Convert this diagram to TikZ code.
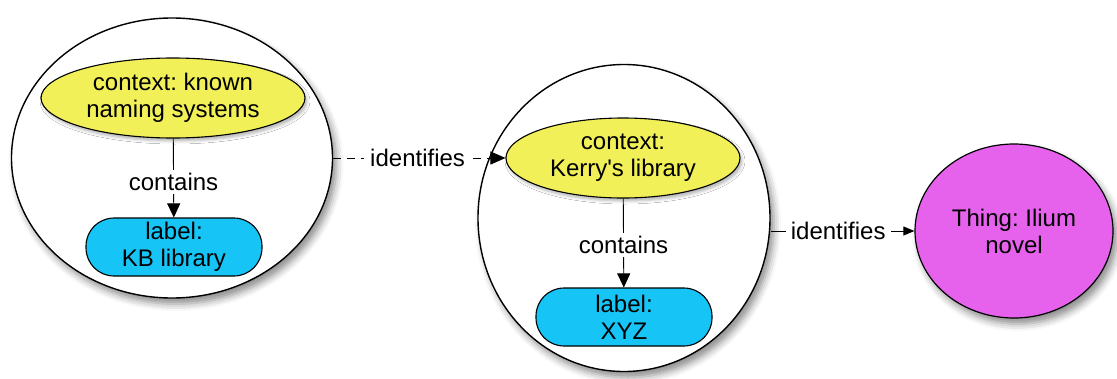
\documentclass[tikz,border=0pt]{standalone}
\usepackage{fontspec}
\setmainfont{Liberation Sans}
\usetikzlibrary{shapes.geometric,arrows.meta,shadows.blur}
\frenchspacing
\definecolor{ctxyellow}{RGB}{242,240,88}
\definecolor{lblblue}{RGB}{22,196,245}
\definecolor{thingpink}{RGB}{230,98,236}
\tikzset{
  every node/.style={font=\fontsize{24}{27}\selectfont, align=center},
  bigshadow/.style={blur shadow={shadow xshift=4pt, shadow yshift=-6pt, shadow blur radius=7pt, shadow opacity=45}},
  smallshadow/.style={blur shadow={shadow xshift=2pt, shadow yshift=-3pt, shadow blur radius=3pt, shadow opacity=30}},
  contextcircle/.style={ellipse, draw, line width=1.4pt, fill=white, inner sep=0pt, bigshadow},
  contextnode/.style={ellipse, draw, line width=1.1pt, fill=ctxyellow, inner sep=0pt, smallshadow},
  labelnode/.style={rectangle, rounded corners=28pt, draw, line width=1.1pt, fill=lblblue, inner sep=0pt, minimum width=176pt, minimum height=58pt},
  thingnode/.style={ellipse, draw, line width=1.2pt, fill=thingpink, inner sep=0pt, minimum width=198pt, minimum height=174pt, bigshadow},
  edgelabel/.style={fill=white, inner sep=3pt},
  rel/.style={line width=0.9pt},
}
\begin{document}
\begin{tikzpicture}[x=1pt, y=-1pt]
  \useasboundingbox (0,0) rectangle (1117,378);

  % outer contexts
  \node[contextcircle, minimum width=321pt, minimum height=280pt] (c1) at (172,158) {};
  \node[contextcircle, minimum width=292pt, minimum height=307pt] (c2) at (624,218) {};

  % first context and its label
  \node[contextnode, minimum width=264pt, minimum height=80pt] (k1) at (173,98) {context: known\\naming systems};
  \node[labelnode] (l1) at (174,247) {label:\\KB library};
  \draw[rel, -{Triangle[length=14pt,width=13pt]}] (k1) -- node[edgelabel, pos=0.55] {contains} (l1);

  % second context and its label
  \node[contextnode, minimum width=234pt, minimum height=80pt] (k2) at (623,158) {context:\\Kerry\textquotesingle s library};
  \node[labelnode] (l2) at (624,317) {label:\\XYZ};
  \draw[rel, -{Triangle[length=14pt,width=13pt]}] (k2) -- node[edgelabel, pos=0.52] {contains} (l2);

  % the thing
  \node[thingnode] (t) at (1014,231) {Thing: Ilium\\novel};

  % identification links
  \draw[rel, dash pattern=on 8pt off 6pt, -{Triangle[length=15pt,width=13pt]}] (c1.east) -- node[edgelabel, inner xsep=6pt, pos=0.49] {identifies} (k2.west);
  \draw[rel, -{Triangle[length=11pt,width=9pt]}] (c2.east |- t.west) -- node[edgelabel, inner xsep=5pt, pos=0.47] {identifies} (t.west);
\end{tikzpicture}
\end{document}
